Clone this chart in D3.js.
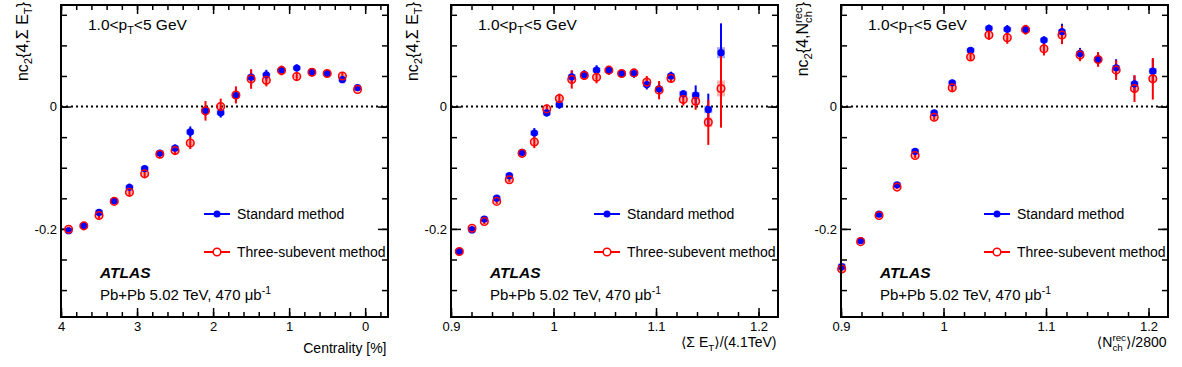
<!DOCTYPE html>
<html>
<head>
<meta charset="utf-8">
<script src="https://cdn.jsdelivr.net/npm/d3@7"></script>
<style>
body { margin: 0; background: #fff; }
svg text { font-family: "Liberation Sans", Arial, "DejaVu Sans", sans-serif; fill: #000; }
</style>
</head>
<body>
<svg width="1182" height="367"></svg>
<script>
// panel 1 : centrality bins
var centBins = [0.1, 0.3, 0.5, 0.7, 0.9, 1.1, 1.3, 1.5, 1.7, 1.9, 2.1, 2.3, 2.5, 2.7, 2.9, 3.1, 3.3, 3.5, 3.7, 3.9];
var std1 = [0.031, 0.044, 0.054, 0.057, 0.063, 0.060, 0.052, 0.048, 0.018, -0.010, -0.007, -0.0415, -0.068, -0.076, -0.1016, -0.132, -0.154, -0.173, -0.1945, -0.203];
var std1Err = [0.003, 0.005, 0.004, 0.005, 0.006, 0.006, 0.008, 0.012, 0.010, 0.008, 0.008, 0.009, 0.006, 0.005, 0.005, 0.006, 0.004, 0.004, 0.003, 0.003];
var std1Sys = [0.003, 0.003, 0.003, 0.003, 0.003, 0.003, 0.003, 0.004, 0.004, 0.004, 0.004, 0.004, 0.004, 0.004, 0.004, 0.004, 0.004, 0.004, 0.004, 0.004];
var sub1 = [0.028, 0.050, 0.054, 0.056, 0.049, 0.059, 0.043, 0.045, 0.019, 0.000, -0.007, -0.0596, -0.072, -0.078, -0.110, -0.140, -0.155, -0.178, -0.195, -0.2005];
var sub1Err = [0.003, 0.006, 0.006, 0.007, 0.007, 0.008, 0.010, 0.016, 0.014, 0.013, 0.016, 0.010, 0.007, 0.006, 0.006, 0.007, 0.005, 0.005, 0.004, 0.004];
var sub1Sys = [0.003, 0.003, 0.003, 0.003, 0.003, 0.003, 0.004, 0.004, 0.004, 0.004, 0.004, 0.004, 0.004, 0.004, 0.004, 0.004, 0.004, 0.004, 0.004, 0.004];

// panel 2 : <sum ET>/4.1 TeV
var etBins = [0.9081, 0.9205, 0.9325, 0.9446, 0.9569, 0.9693, 0.9813, 0.9934, 1.0057, 1.0178, 1.030, 1.042, 1.054, 1.0665, 1.0785, 1.091, 1.103, 1.1146, 1.1266, 1.1387, 1.151, 1.1634];
var std2 = [-0.237, -0.2016, -0.184, -0.1497, -0.113, -0.0749, -0.0432, -0.0104, 0.0033, 0.0487, 0.0525, 0.0595, 0.059, 0.054, 0.054, 0.036, 0.029, 0.050, 0.0208, 0.0186, -0.0049, 0.088];
var std2Err = [0.003, 0.003, 0.003, 0.003, 0.004, 0.004, 0.008, 0.006, 0.007, 0.010, 0.007, 0.008, 0.007, 0.005, 0.007, 0.008, 0.010, 0.007, 0.006, 0.016, 0.026, 0.048];
var std2Sys = [0.004, 0.004, 0.004, 0.004, 0.004, 0.004, 0.004, 0.004, 0.004, 0.004, 0.004, 0.004, 0.004, 0.004, 0.004, 0.004, 0.004, 0.004, 0.005, 0.005, 0.006, 0.009];
var sub2 = [-0.237, -0.199, -0.188, -0.155, -0.1197, -0.0765, -0.058, -0.0038, 0.0131, 0.0443, 0.0508, 0.048, 0.0595, 0.054, 0.055, 0.040, 0.0268, 0.046, 0.0115, 0.0087, -0.0257, 0.0295];
var sub2Err = [0.003, 0.004, 0.004, 0.004, 0.004, 0.005, 0.010, 0.007, 0.008, 0.015, 0.007, 0.010, 0.007, 0.005, 0.006, 0.010, 0.015, 0.006, 0.010, 0.014, 0.037, 0.064];
var sub2Sys = [0.004, 0.004, 0.004, 0.004, 0.004, 0.004, 0.004, 0.004, 0.004, 0.004, 0.004, 0.004, 0.004, 0.004, 0.004, 0.005, 0.005, 0.005, 0.005, 0.006, 0.008, 0.013];

// panel 3 : <Nch rec>/2800
var nchBins = [0.9007, 0.9192, 0.9371, 0.9547, 0.9723, 0.9909, 1.0085, 1.0264, 1.0443, 1.0622, 1.0801, 1.098, 1.1156, 1.1332, 1.1508, 1.1684, 1.1863, 1.2042];
var std3 = [-0.2618, -0.219, -0.176, -0.1279, -0.0732, -0.0104, 0.0388, 0.0918, 0.1279, 0.1262, 0.1257, 0.1087, 0.1224, 0.0869, 0.077, 0.0634, 0.0372, 0.0579];
var std3Err = [0.004, 0.003, 0.003, 0.003, 0.003, 0.005, 0.005, 0.005, 0.006, 0.007, 0.007, 0.006, 0.013, 0.009, 0.011, 0.014, 0.013, 0.020];
var std3Sys = [0.005, 0.004, 0.004, 0.004, 0.004, 0.004, 0.004, 0.004, 0.004, 0.004, 0.004, 0.004, 0.004, 0.004, 0.004, 0.004, 0.004, 0.005];
var sub3 = [-0.2656, -0.2208, -0.178, -0.1317, -0.080, -0.0175, 0.0306, 0.0809, 0.117, 0.1126, 0.1257, 0.0945, 0.117, 0.0841, 0.077, 0.0595, 0.0295, 0.0454];
var sub3Err = [0.004, 0.003, 0.003, 0.003, 0.004, 0.005, 0.006, 0.006, 0.008, 0.010, 0.008, 0.011, 0.015, 0.010, 0.012, 0.016, 0.022, 0.034];
var sub3Sys = [0.005, 0.004, 0.004, 0.004, 0.004, 0.004, 0.004, 0.004, 0.004, 0.004, 0.004, 0.004, 0.004, 0.004, 0.004, 0.004, 0.005, 0.005];

var legendNames = ["Standard method", "Three-subevent method"];
var centTicks = [4, 3, 2, 1, 0];
var ratioTicks = [0.9, 1, 1.1, 1.2];
var yTicks = [-0.2, 0];

var W = 327, H = 312;
var blue = "#0000ff", red = "#ff0000";

var svg = d3.select("svg");
var y = d3.scaleLinear().domain([-0.344, 0.166]).range([H, 0]);

// text with sub / superscripts, parts: [text, kind] kind = "sub" | "sup" | "supback"
var rich = function(txt, parts, size)
{
    var shift = 0, prev = null;
    parts.forEach(function(p) {
        var kind = p[1] || "";
        var target = kind == "sub" ? 4 : (kind == "sup" || kind == "supback" ? -6 : 0);
        var ts = txt.append("tspan").text(p[0])
            .attr("dy", target - shift)
            .attr("font-size", kind ? size * 0.7 : size);
        if (kind == "supback" && prev) ts.attr("dx", -prev.node().getComputedTextLength());
        shift = target;
        prev = ts;
    });
}

var panels = [
    {x: centBins, std: std1, stdErr: std1Err, stdSys: std1Sys, sub: sub1, subErr: sub1Err, subSys: sub1Sys,
     xdom: [4, -0.3], majors: centTicks, minors: d3.range(-0.2, 4.01, 0.2),
     ylab: [["nc"], ["2", "sub"], ["{4,Σ E"], ["T", "sub"], ["}"]],
     xlab: [["Centrality [%]"]], xlabY: 348},
    {x: etBins, std: std2, stdErr: std2Err, stdSys: std2Sys, sub: sub2, subErr: sub2Err, subSys: sub2Sys,
     xdom: [0.9, 1.219], majors: ratioTicks, minors: d3.range(0.9, 1.219, 0.02),
     ylab: [["nc"], ["2", "sub"], ["{4,Σ E"], ["T", "sub"], ["}"]],
     xlab: [["⟨Σ E"], ["T", "sub"], ["⟩/(4.1TeV)"]], xlabY: 342},
    {x: nchBins, std: std3, stdErr: std3Err, stdSys: std3Sys, sub: sub3, subErr: sub3Err, subSys: sub3Sys,
     xdom: [0.9, 1.219], majors: ratioTicks, minors: d3.range(0.9, 1.219, 0.02),
     ylab: [["nc"], ["2", "sub"], ["{4,N"], ["ch", "sub"], ["rec", "supback"], ["}"]],
     xlab: [["⟨N"], ["ch", "sub"], ["rec", "supback"], ["⟩/2800"]], xlabY: 342}
];

panels.forEach(function(p, k)
{
    var g = svg.append("g").attr("transform", "translate(" + (61 + 390 * k) + ",5)");
    var x = d3.scaleLinear().domain(p.xdom).range([0, W]);

    // dotted zero line
    g.append("line")
        .attr("x1", 0).attr("x2", W)
        .attr("y1", y(0)).attr("y2", y(0))
        .attr("stroke", "#000").attr("stroke-width", 2)
        .attr("stroke-dasharray", "2,3");

    // axes (ticks on all four sides)
    var axes = [
        [d3.axisBottom(x).tickValues(p.majors).tickSize(-9).tickPadding(5).tickFormat(String), "translate(0," + H + ")"],
        [d3.axisBottom(x).tickValues(p.minors).tickSize(-5).tickFormat(""), "translate(0," + H + ")"],
        [d3.axisTop(x).tickValues(p.majors).tickSize(-9).tickFormat(""), null],
        [d3.axisTop(x).tickValues(p.minors).tickSize(-5).tickFormat(""), null],
        [d3.axisLeft(y).tickValues(yTicks).tickSize(-10).tickPadding(4).tickFormat(String), null],
        [d3.axisLeft(y).tickValues(d3.range(-0.3, 0.16, 0.05)).tickSize(-6).tickFormat(""), null],
        [d3.axisRight(y).tickValues(yTicks).tickSize(-10).tickFormat(""), "translate(" + W + ",0)"],
        [d3.axisRight(y).tickValues(d3.range(-0.3, 0.16, 0.05)).tickSize(-6).tickFormat(""), "translate(" + W + ",0)"]
    ];
    axes.forEach(function(a) {
        var ag = g.append("g").attr("transform", a[1]).call(a[0]);
        ag.select(".domain").remove();
        ag.attr("font-size", 13).attr("font-family", null);
        ag.selectAll("line").attr("stroke-width", 1.5);
    });

    var series = [
        {v: p.std, e: p.stdErr, s: p.stdSys, col: blue, light: "rgba(0,0,255,0.35)", open: false},
        {v: p.sub, e: p.subErr, s: p.subSys, col: red, light: "rgba(255,0,0,0.3)", open: true}
    ];

    // systematic boxes
    series.forEach(function(s) {
        g.append("g").selectAll("rect").data(p.x).join("rect")
            .attr("x", function(d) { return x(d) - 4; })
            .attr("width", 8)
            .attr("y", function(d, i) { return y(s.v[i] + s.s[i]); })
            .attr("height", function(d, i) { return y(s.v[i] - s.s[i]) - y(s.v[i] + s.s[i]); })
            .attr("fill", s.light);
    });
    // statistical error bars
    series.forEach(function(s) {
        g.append("g").selectAll("line").data(p.x).join("line")
            .attr("x1", function(d) { return x(d); })
            .attr("x2", function(d) { return x(d); })
            .attr("y1", function(d, i) { return y(s.v[i] + s.e[i]); })
            .attr("y2", function(d, i) { return y(s.v[i] - s.e[i]); })
            .attr("stroke", s.col).attr("stroke-width", 2);
    });
    // markers
    series.forEach(function(s) {
        g.append("g").selectAll("circle").data(p.x).join("circle")
            .attr("cx", function(d) { return x(d); })
            .attr("cy", function(d, i) { return y(s.v[i]); })
            .attr("r", s.open ? 3.8 : 3.6)
            .attr("fill", s.open ? "none" : s.col)
            .attr("stroke", s.open ? s.col : "none")
            .attr("stroke-width", 1.5);
    });

    // frame
    g.append("rect").attr("width", W).attr("height", H)
        .attr("fill", "none").attr("stroke", "#000").attr("stroke-width", 2);

    // pT range label
    rich(g.append("text").attr("x", 27).attr("y", 25), [["1.0<p"], ["T", "sub"], ["<5 GeV"]], 15.5);

    // legend
    series.forEach(function(s, i) {
        var ly = 209 + i * 38;
        g.append("line").attr("x1", 143).attr("x2", 169).attr("y1", ly).attr("y2", ly)
            .attr("stroke", s.col).attr("stroke-width", 2);
        g.append("circle").attr("cx", 156).attr("cy", ly).attr("r", s.open ? 3.8 : 3.5)
            .attr("fill", s.open ? "#fff" : s.col)
            .attr("stroke", s.open ? s.col : "none").attr("stroke-width", 1.5);
        g.append("text").attr("x", 176).attr("y", ly + 5).attr("font-size", 14).text(legendNames[i]);
    });

    g.append("text").attr("x", 39).attr("y", 273)
        .attr("font-size", 15.5).attr("font-weight", "bold").attr("font-style", "italic")
        .text("ATLAS");
    rich(g.append("text").attr("x", 39).attr("y", 295), [["Pb+Pb 5.02 TeV, 470 μb"], ["-1", "sup"]], 15);

    // axis titles
    rich(g.append("text").attr("text-anchor", "end").attr("x", W - 1.5).attr("y", p.xlabY), p.xlab, 14);
    rich(g.append("text").attr("text-anchor", "end")
        .attr("transform", "translate(-33,-3) rotate(-90)"), p.ylab, 16);
});
</script>
</body>
</html>
